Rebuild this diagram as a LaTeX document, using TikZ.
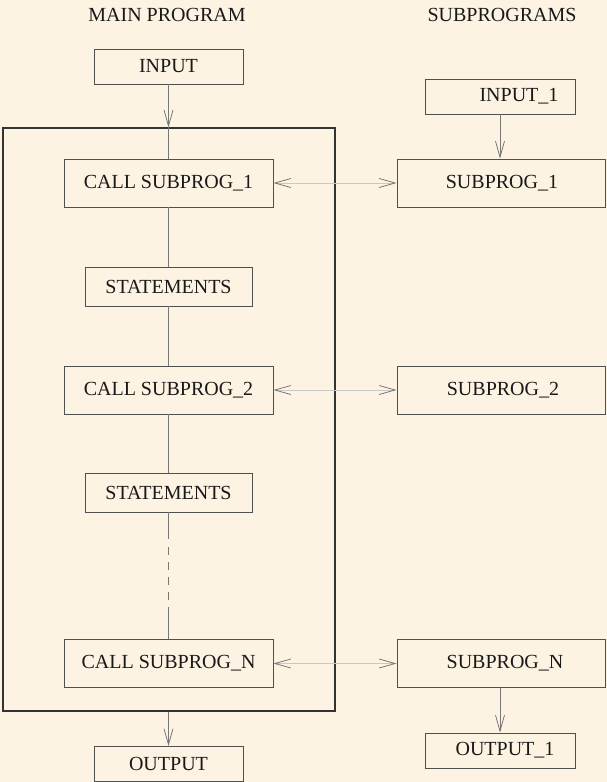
\documentclass[tikz,border=0pt]{standalone}
\usepackage{fontspec}
\setmainfont{Liberation Serif}
\usetikzlibrary{arrows.meta}
\definecolor{bg}{RGB}{253,243,226}
\definecolor{boxline}{RGB}{80,80,80}
\definecolor{conn}{RGB}{120,120,120}
\definecolor{light}{RGB}{200,200,200}
\begin{document}
\begin{tikzpicture}[x=1pt,y=-1pt,
  every node/.style={font=\fontsize{20}{24}\selectfont, text=black!90},
  box/.style={draw=boxline, line width=0.8pt, inner sep=0pt, minimum height=#1},
  box/.default=48,
  conn/.style={draw=conn, line width=0.8pt},
  tip/.style={-{Straight Barb[length=16pt,width=9pt,color=conn]}},
  bi/.style={draw=light, line width=0.8pt, {Straight Barb[length=16pt,width=9pt,color=conn]}-{Straight Barb[length=16pt,width=9pt,color=conn]}},
  txt/.style={inner sep=0pt}
]
\fill[bg] (0,0) rectangle (607,782);
\useasboundingbox (0,0) rectangle (607,782);

% titles
\node[txt, anchor=base] (t1) at (167,21.5) {MAIN PROGRAM};
\node[txt, anchor=base] (t2) at (502,21.5) {SUBPROGRAMS};

% frame
\node[draw=black!80, line width=1.1pt, minimum width=332, minimum height=583, inner sep=0pt] (frame) at (169,419.5) {};

% main boxes
\node[box=35, minimum width=149] (in) at (168.5,66.5) {INPUT};
\node[box, minimum width=209] (c1) at (168.5,183) {CALL SUBPROG\_1};
\node[box=39, minimum width=167] (st1) at (168.5,286.5) {STATEMENTS};
\node[box, minimum width=209] (c2) at (168.5,390) {CALL SUBPROG\_2};
\node[box=39, minimum width=167] (st2) at (168.5,492.5) {STATEMENTS};
\node[box, minimum width=209] (cn) at (168.5,663.5) {CALL SUBPROG\_N};
\node[box=35, minimum width=149] (out) at (168.5,764) {OUTPUT};

% sub boxes
\node[box=35, minimum width=150] (in1) at (500,96.5) {};
\node[txt] (in1t) at ([xshift=19]in1.center) {INPUT\_1};
\node[box, minimum width=208] (s1) at (501,183) {};
\node[txt] (s1t) at ([xshift=1]s1.center) {SUBPROG\_1};
\node[box, minimum width=208] (s2) at (501,390) {};
\node[txt] (s2t) at ([xshift=2]s2.center) {SUBPROG\_2};
\node[box, minimum width=208] (sn) at (501,663.5) {};
\node[txt] (snt) at ([xshift=4]sn.center) {SUBPROG\_N};
\node[box=35, minimum width=150] (out1) at (500,750.5) {};
\node[txt] (out1t) at ([xshift=5]out1.center) {OUTPUT\_1};

% vertical connectors
\draw[conn, tip] (in.south) -- (in.south |- frame.north);
\draw[conn] (in.south |- frame.north) -- (c1.north);
\draw[conn] (c1.south) -- (st1.north);
\draw[conn] (st1.south) -- (c2.north);
\draw[conn] (c2.south) -- (st2.north);
\coordinate (d1) at (168.5,539);
\coordinate (d2) at (168.5,547);
\coordinate (d3) at (168.5,610);
\draw[conn] (st2.south) -- (d1);
\draw[conn, dash pattern=on 8pt off 7pt] (d2) -- (d3);
\draw[conn] (d3) -- (cn.north);
\draw[conn, tip] (cn.south |- frame.south) -- (out.north);

\draw[conn, tip] (in1.south) -- (in1.south |- s1.north);
\draw[conn, tip] (sn.south -| out1.north) -- (out1.north);

% bidirectional
\draw[bi] (c1.east) -- (s1.west);
\draw[bi] (c2.east) -- (s2.west);
\draw[bi] (cn.east) -- (sn.west);
\end{tikzpicture}
\end{document}
